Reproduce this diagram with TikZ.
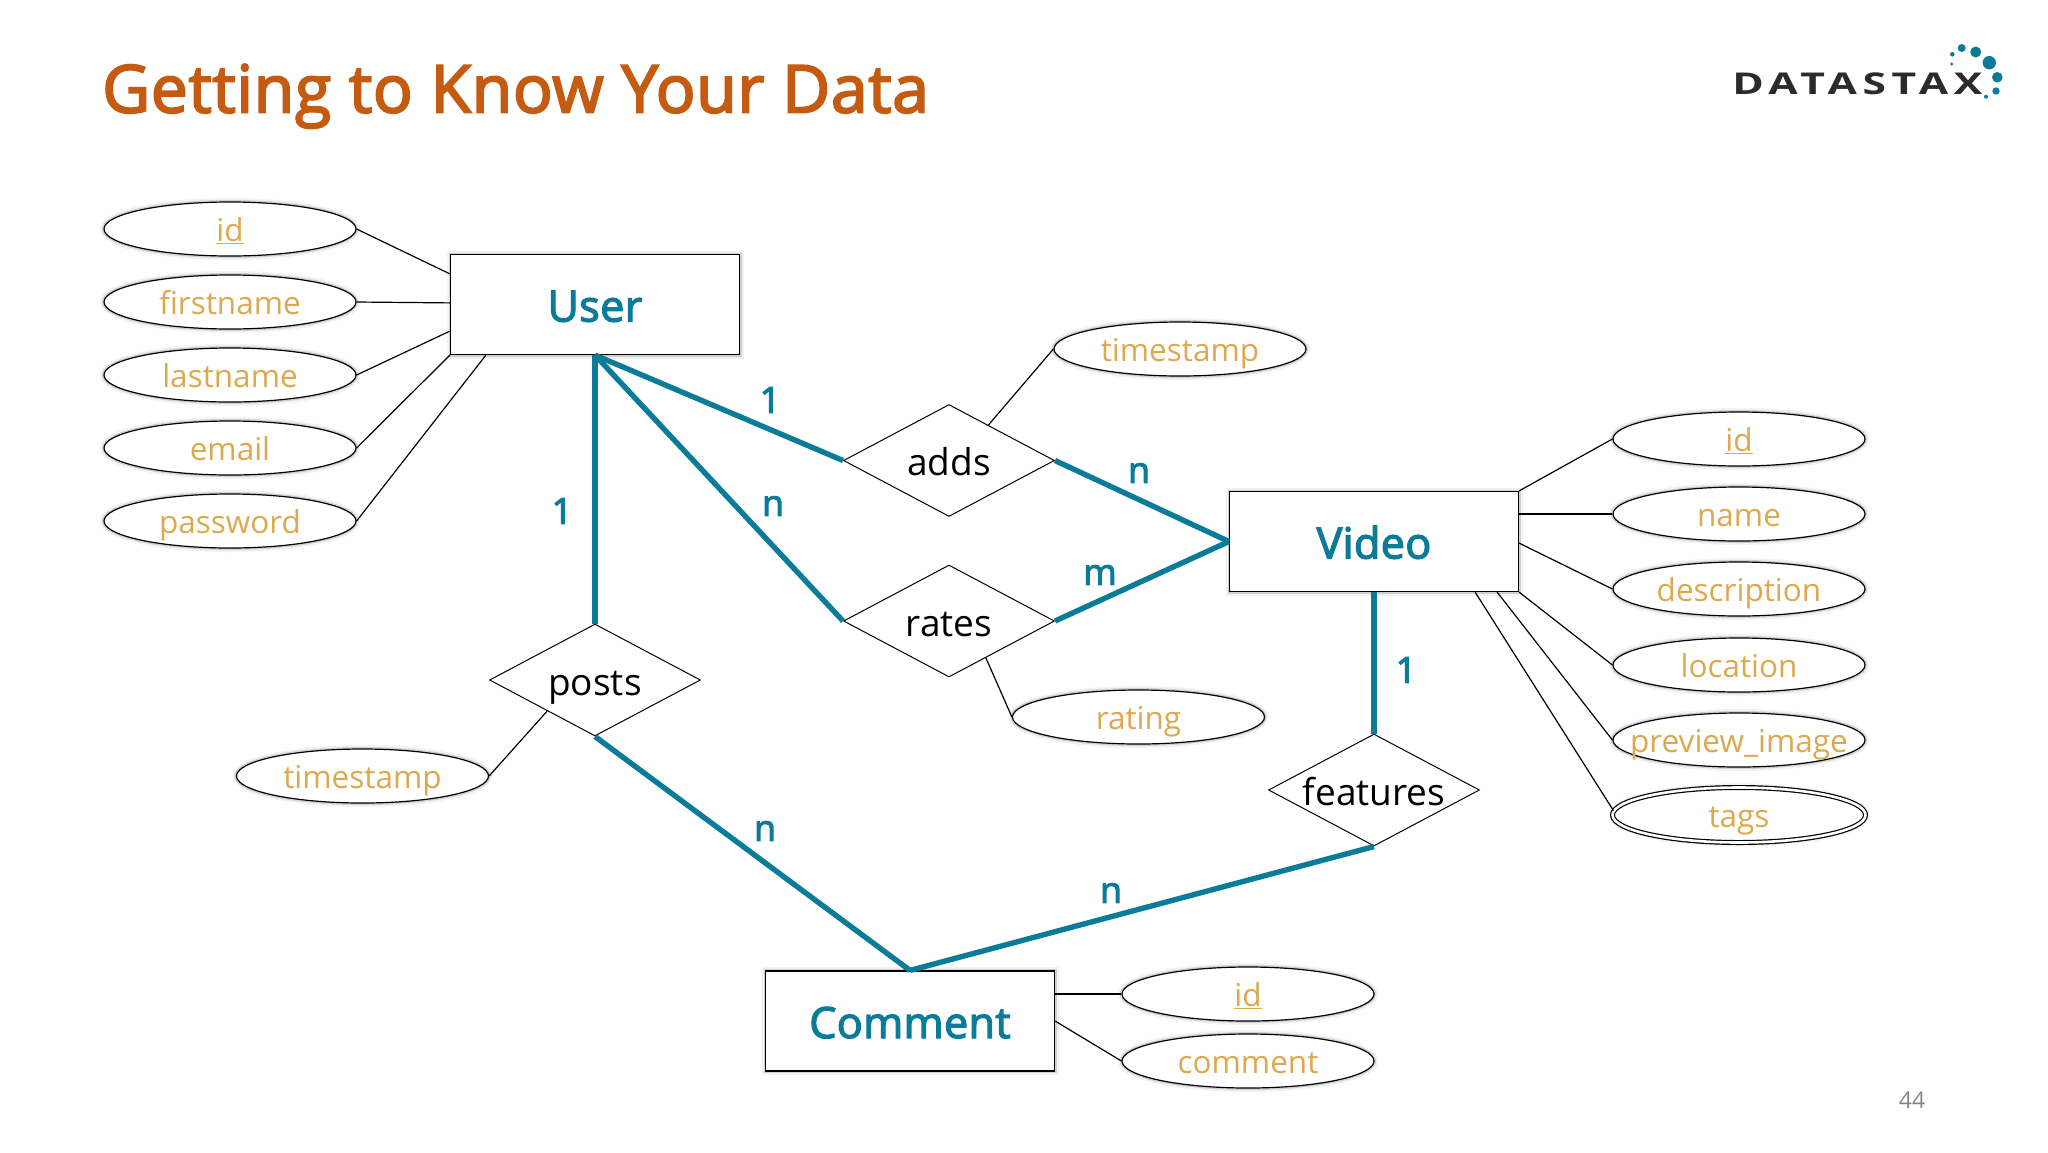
\documentclass[tikz,border=0pt]{standalone}
\usepackage{fontspec}
\setmainfont{Open Sans}
\newfontfamily\semifont[FakeBold=3,LetterSpace=1]{Open Sans}
\usetikzlibrary{shapes.geometric, positioning}

\definecolor{ddteal}{HTML}{0A7C9A}
\definecolor{ddgold}{HTML}{DDA94F}
\definecolor{ddorange}{HTML}{C55A11}
\definecolor{ddgrey}{HTML}{858585}
\definecolor{ddink}{HTML}{2B2B2D}

\newcommand{\attname}[1]{\makebox[0pt]{\smash{\raisebox{-12.5pt}{#1}}}}
\newcommand{\keyname}[1]{\attname{\underline{#1}}}

\tikzset{
	halo/.style={preaction={draw=black,opacity=.05,line width=8pt},preaction={draw=black,opacity=.14,line width=4pt}},
	entity/.style={rectangle,draw,fill=white,halo,line width=1.2pt,minimum width=289pt,minimum height=100pt,inner sep=0pt,text=ddteal,text height=34pt,text depth=0pt,font=\fontsize{43}{43}\semifont},
	relation/.style={diamond,draw,fill=white,line width=1pt,aspect=1.88,minimum width=211pt,minimum height=112pt,inner sep=0pt,text=black,text height=30pt,text depth=0pt,font=\fontsize{37}{37}\selectfont},
	attr/.style={ellipse,draw,fill=white,halo,line width=1.2pt,minimum width=252pt,minimum height=54pt,inner sep=0pt,text=ddgold,font=\fontsize{31.5}{31.5}\selectfont},
	card/.style={text=ddteal,inner sep=0pt,font=\fontsize{36}{36}\semifont},
	link/.style={draw=ddteal,line width=5.4pt},
	stem/.style={draw=black,line width=1.2pt},
}

\begin{document}
\begin{tikzpicture}[x=1pt,y=-1pt]
	\useasboundingbox (0,0) rectangle (2048,1152);

	\node[anchor=base west,inner sep=0pt,text=ddorange,font=\fontsize{66}{66}\semifont] (title) at (102,112.5) {Getting to Know Your Data};
	\node[anchor=base west,inner sep=0pt,text=ddink,font=\fontsize{30}{30}\bfseries,xscale=1.42,transform shape] (logo) at (1732,94) {\addfontfeature{LetterSpace=13}DATASTAX};
	\foreach \dx/\dy/\dr in {1961.7/48/4,1975.7/52/5.5,1989.3/62.7/6.7,1997.3/77.3/5.3,1996/91/3.7,1986/96.7/2,1952.3/54.3/2.3,1951.7/64/1.7}
		{\fill[ddteal] (\dx,\dy) circle (\dr);}
	\node[text=ddgrey,inner sep=0pt,font=\fontsize{23}{23}\selectfont] (pageno) at (1912,1100) {44};

	\node[entity] (user) at (595,304.5) {User};
	\node[entity] (video) at (1374,541.5) {Video};
	\node[entity] (comment) at (910,1021) {Comment};

	\node[relation] (adds) at (949,460.5) {adds};
	\node[relation] (rates) at (949,621) {rates};
	\node[relation] (posts) at (595,680) {posts};
	\node[relation] (features) at (1374,790) {features};

	\foreach \nm/\yy/\txt in {ufirst/302/firstname,ulast/375/lastname,umail/448/email,upass/521/password}
		{\node[attr] (\nm) at (230,\yy) {\attname{\txt}};}
	\node[attr] (uid) at (230,229) {\keyname{id}};

	\node[attr] (vid) at (1739,439) {\keyname{id}};
	\foreach \nm/\yy/\txt in {vname/514/name,vdesc/589/description,vloc/665/location,vprev/740/preview\_image}
		{\node[attr] (\nm) at (1739,\yy) {\attname{\txt}};}
	\node[attr,double,double distance=2.6pt,line width=1.2pt,minimum width=253pt,minimum height=55pt] (vtags) at (1739,815) {\attname{tags}};

	\node[attr] (cid) at (1248,994) {\keyname{id}};
	\node[attr] (ctext) at (1248,1061) {\attname{comment}};
	\node[attr] (addtime) at (1180,349) {\attname{timestamp}};
	\node[attr] (rating) at (1138.5,717) {\attname{rating}};
	\node[attr] (posttime) at (362.5,776) {\attname{timestamp}};

	\draw[stem] (uid.east) -- ([yshift=-20pt]user.north west);
	\draw[stem] (ufirst.east) -- ([yshift=-49pt]user.north west);
	\draw[stem] (ulast.east) -- ([yshift=24pt]user.south west);
	\draw[stem] (umail.east) -- (user.south west);
	\draw[stem] (upass.east) -- ([xshift=36pt]user.south west);

	\draw[stem] (vid.west) -- (video.north east);
	\draw[stem] (vname.west) -- (vname.west -| video.east);
	\draw[stem] (vdesc.west) -- ([yshift=49pt]video.south east);
	\draw[stem] (vloc.west) -- (video.south east);
	\draw[stem] (vprev.west) -- ([xshift=-22pt]video.south east);
	\draw[stem] (vtags.178) -- ([xshift=-44pt]video.south east);

	\draw[stem] (cid.west) -- (cid.west -| comment.east);
	\draw[stem] (ctext.west) -- (comment.east);
	\draw[stem] (addtime.west) -- (adds.42);
	\draw[stem] (rates.-45) -- (rating.west);
	\draw[stem] (posts.213) -- (posttime.east);

	\foreach \from/\to in {adds.west/user.south,rates.west/user.south,posts.north/user.south,adds.east/video.west,rates.east/video.west,features.north/video.south,features.south/comment.north,posts.south/comment.north}
		{\draw[link] (\from) -- (\to);}

	\node[card] (c1) at (770,400) {1};
	\node[card] (c2) at (1139,473) {n};
	\node[card] (c3) at (773,506) {n};
	\node[card] (c4) at (1100,575) {m};
	\node[card] (c5) at (562,511) {1};
	\node[card] (c6) at (1406,670) {1};
	\node[card] (c7) at (765,831) {n};
	\node[card] (c8) at (1111,893) {n};
\end{tikzpicture}
\end{document}
